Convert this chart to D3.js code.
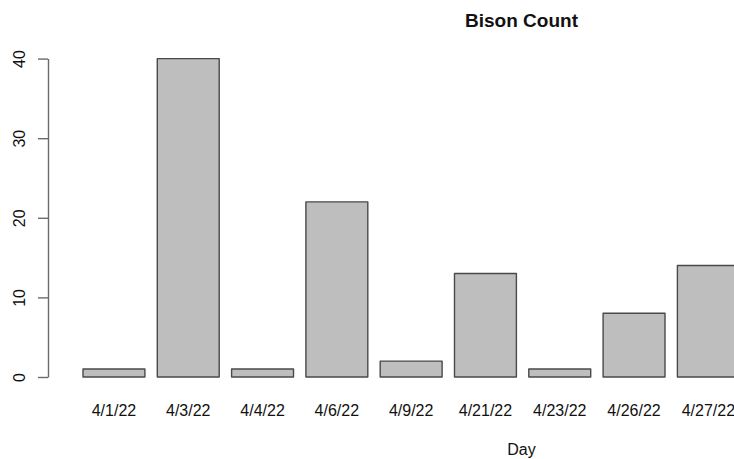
<!DOCTYPE html>
<html>
<head>
<meta charset="utf-8">
<script src="https://cdn.jsdelivr.net/npm/d3@7"></script>
<style>
  html, body { margin: 0; padding: 0; background: #fff; }
  svg { display: block; font-family: "Liberation Sans", Arial, Helvetica, sans-serif; }
</style>
</head>
<body>
<svg id="chart" width="734" height="459"></svg>
<script>
// Bison sightings per survey day
const days = ["4/1/22", "4/3/22", "4/4/22", "4/6/22", "4/9/22", "4/21/22", "4/23/22", "4/26/22", "4/27/22"];
const counts = [1, 40, 1, 22, 2, 13, 1, 8, 14];
const yTicks = [0, 10, 20, 30, 40];
const title = "Bison Count";
const xTitle = "Day";

const svg = d3.select("#chart");

const step = 74.3;
const x = d3.scaleBand()
  .domain(days)
  .range([76.8, 76.8 + step * days.length])
  .paddingInner(1 / 6)
  .paddingOuter(1 / 12);

const y = d3.scaleLinear().domain([0, 40]).range([377, 58.6]);

// bars
svg.append("g")
  .selectAll("rect")
  .data(days.map((d, i) => ({ day: d, value: counts[i] })))
  .join("rect")
  .attr("x", d => x(d.day))
  .attr("y", d => y(d.value))
  .attr("width", x.bandwidth())
  .attr("height", d => y(0) - y(d.value))
  .attr("fill", "#bebebe")
  .attr("stroke", "#4a4a4a")
  .attr("stroke-width", 1.4)
  .attr("stroke-linejoin", "round");

// y axis (R-style: rotated labels, outward ticks)
const yAxis = svg.append("g")
  .attr("transform", "translate(48,0)")
  .call(d3.axisLeft(y).tickValues(yTicks).tickSize(10).tickSizeOuter(0).tickFormat(d3.format("d")));
yAxis.select(".domain").attr("stroke", "#6a6a6a").attr("stroke-width", 1.4);
yAxis.selectAll(".tick line").attr("stroke", "#6a6a6a").attr("stroke-width", 1.4);
yAxis.selectAll(".tick text")
  .attr("x", null).attr("dy", null)
  .attr("text-anchor", "middle")
  .attr("transform", "translate(-23,0) rotate(-90)")
  .attr("font-size", 16)
  .attr("font-family", "Liberation Sans, Arial, sans-serif")
  .attr("fill", "#111");

// category labels
svg.append("g")
  .selectAll("text")
  .data(days)
  .join("text")
  .attr("x", d => x(d) + x.bandwidth() / 2)
  .attr("y", 416)
  .attr("text-anchor", "middle")
  .attr("font-size", 16)
  .attr("fill", "#111")
  .text(d => d);

// titles
svg.append("text")
  .attr("x", 521.5)
  .attr("y", 27)
  .attr("text-anchor", "middle")
  .attr("font-size", 19)
  .attr("font-weight", "bold")
  .attr("fill", "#111")
  .text(title);

svg.append("text")
  .attr("x", 521.5)
  .attr("y", 455)
  .attr("text-anchor", "middle")
  .attr("font-size", 16)
  .attr("fill", "#111")
  .text(xTitle);
</script>
</body>
</html>
